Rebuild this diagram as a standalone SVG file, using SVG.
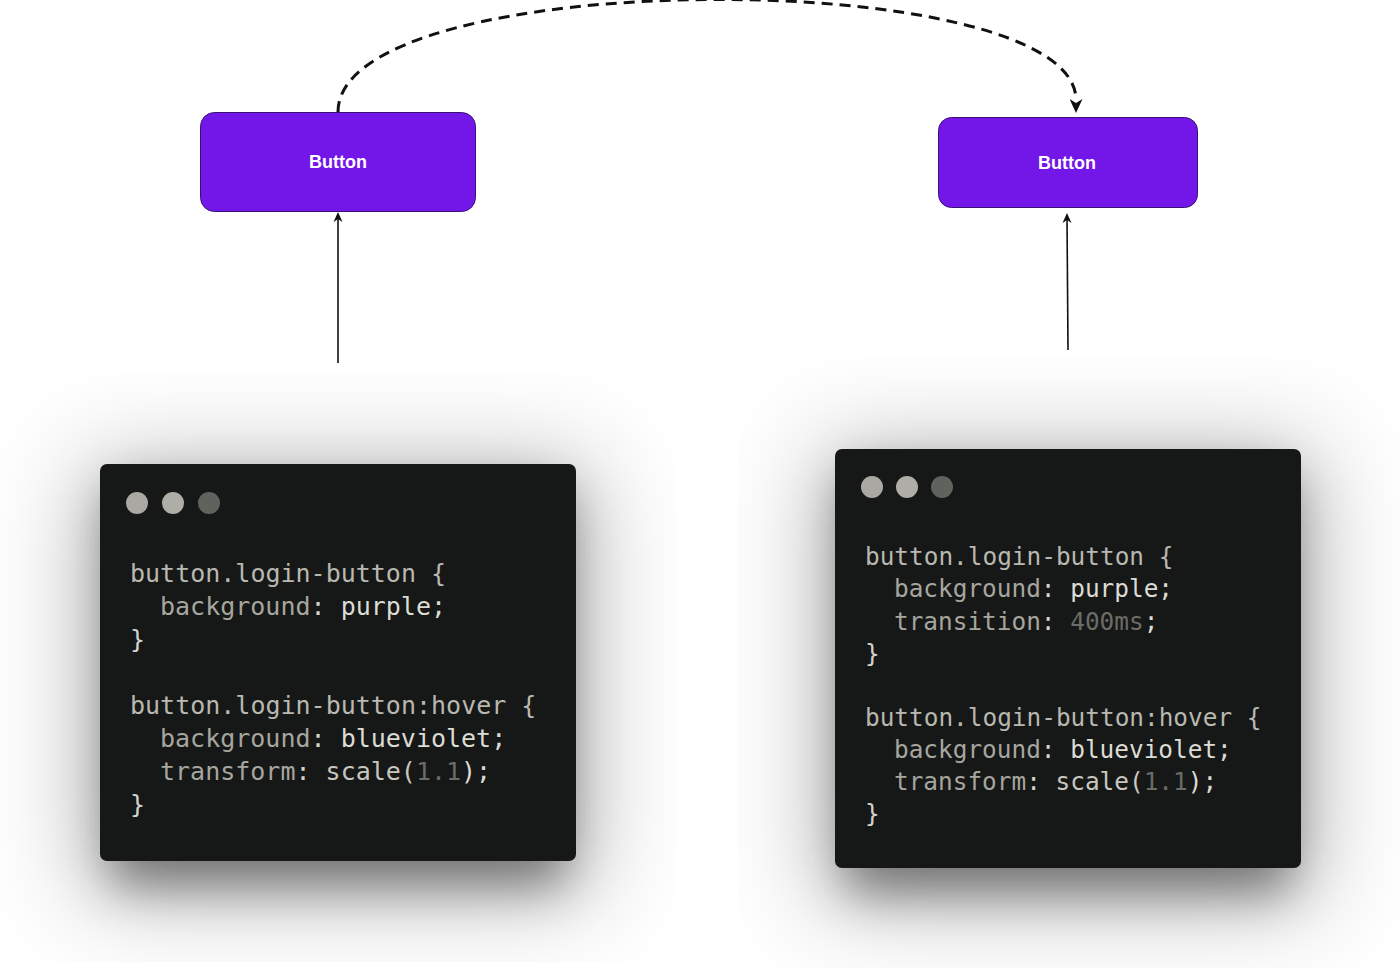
<svg xmlns="http://www.w3.org/2000/svg" width="1400" height="968" viewBox="0 0 1400 968">
<style>
.btn{fill:#7316e8;stroke:#3a1078;stroke-width:1}
.btntxt{font-family:"Liberation Sans",Arial,sans-serif;font-weight:bold;font-size:18px;fill:#ffffff;text-anchor:middle}
.win{fill:#161818}
.code{font-family:"DejaVu Sans Mono","Liberation Mono",monospace;fill:#b9b8b0}
.prop{fill:#a7a69e}
.val{fill:#dddcd4}
.num{fill:#6b6c66}
.pun{fill:#d4d3cb}
.conn{fill:none;stroke:#111111}
</style>
<defs>
<filter id="halo" x="-50%" y="-50%" width="200%" height="200%">
<feGaussianBlur stdDeviation="50"/>
</filter>
<filter id="sh" x="-40%" y="-40%" width="180%" height="180%">
<feGaussianBlur stdDeviation="24"/>
</filter>
<clipPath id="clipL"><rect x="0" y="372" width="676" height="590"/></clipPath>
<clipPath id="clipR"><rect x="738" y="357" width="662" height="611"/></clipPath>
<marker id="headDash" viewBox="0 0 14 13" refX="1" refY="6.5" markerWidth="14" markerHeight="13" markerUnits="userSpaceOnUse" orient="auto">
<path d="M0,0 L14,6.5 L0,13 L4,6.5 Z" fill="#111"/>
</marker>
</defs>
<rect x="0" y="0" width="1400" height="968" fill="#ffffff"/>

<g id="shadows">
<g clip-path="url(#clipL)">
<rect x="85" y="465" width="506" height="430" rx="10" fill="#000" fill-opacity="0.28" filter="url(#halo)"/>
<rect x="110" y="490" width="456" height="395" rx="8" fill="#000" fill-opacity="0.42" filter="url(#sh)"/>
</g>
<g clip-path="url(#clipR)">
<rect x="820" y="450" width="496" height="452" rx="10" fill="#000" fill-opacity="0.28" filter="url(#halo)"/>
<rect x="845" y="475" width="446" height="417" rx="8" fill="#000" fill-opacity="0.42" filter="url(#sh)"/>
</g>
</g>

<g id="connectors">
<path class="conn" d="M338,112 C338,-36 1076,-36 1076,100" stroke-width="3" stroke-dasharray="11 7" marker-end="url(#headDash)"/>
<line class="conn" x1="338" y1="363" x2="338" y2="216" stroke-width="1.6"/>
<path d="M338,212 L342.5,222 L338,219 L333.5,222 Z" fill="#111"/>
<line class="conn" x1="1068" y1="350" x2="1067" y2="217" stroke-width="1.6"/>
<path d="M1067,213 L1071.5,223 L1067,220 L1062.5,223 Z" fill="#111"/>
</g>

<g id="button-left">
<rect class="btn" x="200.5" y="112.5" width="275" height="99" rx="14"/>
<text class="btntxt" x="338" y="168">Button</text>
</g>

<g id="button-right">
<rect class="btn" x="938.5" y="117.5" width="259" height="90" rx="13"/>
<text class="btntxt" x="1067" y="169">Button</text>
</g>

<g id="code-left">
<rect class="win" x="100" y="464" width="476" height="397" rx="7"/>
<circle cx="137" cy="503" r="11" fill="#a9a8a2"/>
<circle cx="173" cy="503" r="11" fill="#aeada7"/>
<circle cx="209" cy="503" r="11" fill="#5e645d"/>
<g class="code" font-size="25">
<text x="130" y="582">button.login-button {</text>
<text x="160" y="615"><tspan class="prop">background</tspan><tspan class="pun">: </tspan><tspan class="val">purple;</tspan></text>
<text x="130" y="648" class="pun">}</text>
<text x="130" y="714">button.login-button:hover {</text>
<text x="160" y="747"><tspan class="prop">background</tspan><tspan class="pun">: </tspan><tspan class="val">blueviolet;</tspan></text>
<text x="160" y="780"><tspan class="prop">transform</tspan><tspan class="pun">: </tspan><tspan fill="#c8c7bf">scale(</tspan><tspan class="num">1.1</tspan><tspan class="val">);</tspan></text>
<text x="130" y="813" class="pun">}</text>
</g>
</g>

<g id="code-right">
<rect class="win" x="835" y="449" width="466" height="419" rx="7"/>
<circle cx="872" cy="487" r="11" fill="#a9a8a2"/>
<circle cx="907" cy="487" r="11" fill="#aeada7"/>
<circle cx="942" cy="487" r="11" fill="#5e645d"/>
<g class="code" font-size="24.4">
<text x="865" y="565">button.login-button {</text>
<text x="894" y="597"><tspan class="prop">background</tspan><tspan class="pun">: </tspan><tspan class="val">purple;</tspan></text>
<text x="894" y="630"><tspan class="prop">transition</tspan><tspan class="pun">: </tspan><tspan class="num">400ms</tspan><tspan class="val">;</tspan></text>
<text x="865" y="662" class="pun">}</text>
<text x="865" y="726">button.login-button:hover {</text>
<text x="894" y="758"><tspan class="prop">background</tspan><tspan class="pun">: </tspan><tspan class="val">blueviolet;</tspan></text>
<text x="894" y="790"><tspan class="prop">transform</tspan><tspan class="pun">: </tspan><tspan fill="#c8c7bf">scale(</tspan><tspan class="num">1.1</tspan><tspan class="val">);</tspan></text>
<text x="865" y="822" class="pun">}</text>
</g>
</g>
</svg>
